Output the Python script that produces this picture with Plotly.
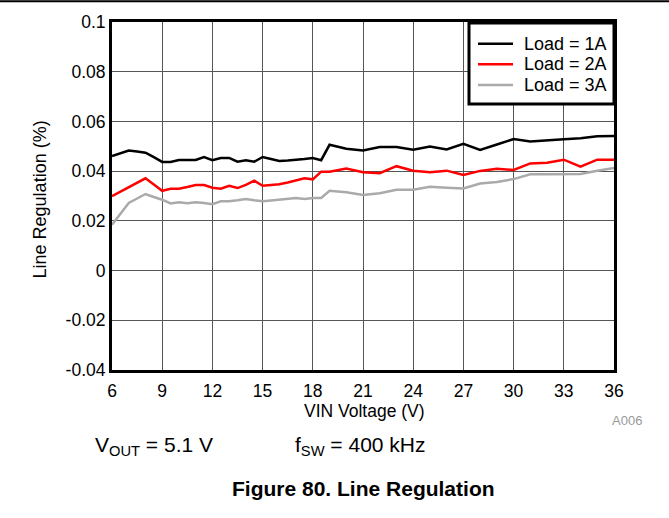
import plotly.graph_objects as go

# Input voltage (V)
vin = [6, 6.5, 7, 7.5, 8, 8.5, 9, 9.5, 10, 10.5, 11, 11.5, 12, 12.5, 13, 13.5,
       14, 14.5, 15, 15.5, 16, 16.5, 17, 17.5, 18, 18.5, 19,
       20, 21, 22, 23, 24, 25, 26, 27, 28, 29, 30, 31, 32, 33, 34, 35, 36]

# Line regulation (%)
load_1a = [0.0461, 0.0472, 0.0483, 0.0479, 0.0474, 0.0456, 0.0437, 0.0437, 0.0445, 0.0445,
           0.0445, 0.0457, 0.0444, 0.0453, 0.0453, 0.0438, 0.0444, 0.0438, 0.0457, 0.0449,
           0.0441, 0.0443, 0.0445, 0.0449, 0.0453, 0.0444, 0.0506,
           0.0490, 0.0483, 0.0497, 0.0497, 0.0486, 0.0499, 0.0487, 0.0510, 0.0485,
           0.0507, 0.0529, 0.0519, 0.0522, 0.0528, 0.0532, 0.0540, 0.0541]

load_2a = [0.0299, 0.0317, 0.0335, 0.0353, 0.0371, 0.0346, 0.0321, 0.0329, 0.0329, 0.0336,
           0.0344, 0.0344, 0.0333, 0.0329, 0.0341, 0.0332, 0.0345, 0.0362, 0.0341, 0.0344,
           0.0347, 0.0354, 0.0361, 0.0371, 0.0367, 0.0398, 0.0398,
           0.0411, 0.0396, 0.0392, 0.0420, 0.0402, 0.0396, 0.0402, 0.0385, 0.0401,
           0.0410, 0.0405, 0.0431, 0.0434, 0.0446, 0.0418, 0.0446, 0.0446]

load_3a = [0.0184, 0.0228, 0.0272, 0.0290, 0.0308, 0.0296, 0.0285, 0.0270, 0.0275, 0.0271,
           0.0275, 0.0272, 0.0267, 0.0279, 0.0279, 0.0283, 0.0288, 0.0283, 0.0279, 0.0282,
           0.0285, 0.0288, 0.0292, 0.0288, 0.0292, 0.0292, 0.0321,
           0.0315, 0.0304, 0.0311, 0.0325, 0.0325, 0.0337, 0.0333, 0.0330, 0.0350,
           0.0356, 0.0368, 0.0387, 0.0388, 0.0388, 0.0389, 0.0402, 0.0413]

series_names = ["Load = 1A", "Load = 2A", "Load = 3A"]
series_colors = ["#000000", "#ff0000", "#aaaaaa"]

x_ticks = [6, 9, 12, 15, 18, 21, 24, 27, 30, 33, 36]
y_ticks = [-0.04, -0.02, 0, 0.02, 0.04, 0.06, 0.08, 0.1]
y_tick_text = ["-0.04", "-0.02", "0", "0.02", "0.04", "0.06", "0.08", "0.1"]

FONT = "Liberation Sans, Arial, Helvetica, sans-serif"

fig = go.Figure()
for ys, name, col in zip([load_1a, load_2a, load_3a], series_names, series_colors):
    fig.add_trace(go.Scatter(x=vin, y=ys, mode="lines", name=name, showlegend=False,
                             line=dict(color=col, width=2.5)))

W, H = 669, 518
L, R, T, B = 112, 614, 16, 370


def px(x):
    return (x - L) / (R - L)


def py(y):
    return (B - y) / (B - T)


shapes = [dict(type="line", xref="paper", yref="paper",
               x0=px(0), x1=px(W), y0=py(-5), y1=py(-5),
               line=dict(color="black", width=2))]
# legend box
shapes.append(dict(type="rect", xref="paper", yref="paper",
                   x0=px(469), x1=px(614), y0=py(17), y1=py(99.5),
                   fillcolor="white", line=dict(color="black", width=3), layer="above"))
annotations = []
legend_rows = [38, 59, 80]
for name, col, yy in zip(series_names, series_colors, legend_rows):
    shapes.append(dict(type="line", xref="paper", yref="paper",
                       x0=px(478), x1=px(513), y0=py(yy), y1=py(yy),
                       line=dict(color=col, width=2.5), layer="above"))
    annotations.append(dict(text=name, xref="paper", yref="paper", x=px(522), y=py(yy),
                            xanchor="left", yanchor="middle", showarrow=False,
                            font=dict(size=18)))

annotations += [
    dict(text="VIN Voltage (V)", xref="paper", yref="paper", x=px(364.5), y=py(412),
         xanchor="center", yanchor="middle", showarrow=False, font=dict(size=17.5)),
    dict(text="Line Regulation (%)", xref="paper", yref="paper", x=px(40), y=py(196.5),
         xanchor="center", yanchor="middle", showarrow=False, textangle=-90,
         font=dict(size=18)),
    dict(text="A006", xref="paper", yref="paper", x=px(627), y=py(421.5),
         xanchor="center", yanchor="middle", showarrow=False,
         font=dict(size=13, color="#999999")),
    dict(text="V<sub>OUT</sub> = 5.1 V", xref="paper", yref="paper", x=px(93), y=py(447),
         xanchor="left", yanchor="middle", showarrow=False, font=dict(size=21)),
    dict(text="f<sub>SW</sub> = 400 kHz", xref="paper", yref="paper", x=px(293), y=py(447),
         xanchor="left", yanchor="middle", showarrow=False, font=dict(size=21)),
    dict(text="<b>Figure 80. Line Regulation</b>", xref="paper", yref="paper",
         x=px(363.5), y=py(491), xanchor="center", yanchor="middle", showarrow=False,
         font=dict(size=21)),
]

fig.update_layout(
    width=W, height=H,
    margin=dict(l=L, r=W - R, t=T, b=H - B),
    paper_bgcolor="white", plot_bgcolor="white",
    font=dict(family=FONT, size=17, color="black"),
    showlegend=False,
    xaxis=dict(range=[6, 36], tickvals=x_ticks, ticks="", showgrid=True,
               gridcolor="#555555", gridwidth=1, showline=True, mirror=True,
               linecolor="black", linewidth=3, zeroline=False,
               tickfont=dict(size=17.5), ticklabelstandoff=3),
    yaxis=dict(range=[-0.04, 0.1], tickvals=y_ticks, ticktext=y_tick_text, ticks="",
               showgrid=True, gridcolor="#555555", gridwidth=1, showline=True,
               mirror=True, linecolor="black", linewidth=3, zeroline=False,
               tickfont=dict(size=17.5)),
    shapes=shapes,
    annotations=annotations,
)

fig.write_html("out.html", config={"displayModeBar": False},
               post_script="document.body.style.margin='0';document.body.style.overflow='hidden';")
